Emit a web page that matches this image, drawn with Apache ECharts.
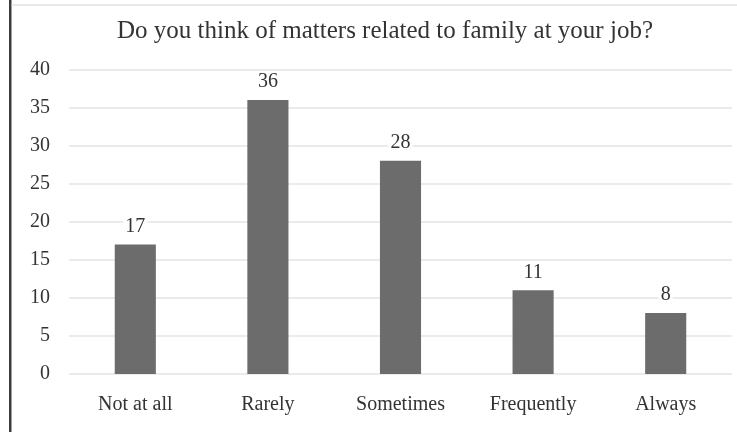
<!DOCTYPE html>
<html>
<head>
<meta charset="utf-8">
<script src="https://cdn.jsdelivr.net/npm/echarts@6/dist/echarts.min.js"></script>
<style>
  html, body { margin: 0; padding: 0; background: #fff; }
  #chart { width: 737px; height: 432px; }
</style>
</head>
<body>
<div id="chart"></div>
<script>
// Survey answers: how often family matters come to mind at work
const titleText = 'Do you think of matters related to family at your job?';
const categories = ['Not at all', 'Rarely', 'Sometimes', 'Frequently', 'Always'];
const counts = [17, 36, 28, 11, 8];
const yTicks = { min: 0, max: 40, interval: 5 };

const serif = '"Liberation Serif", "Times New Roman", serif';
const textColor = '#333333';

const chart = echarts.init(document.getElementById('chart'), null, { renderer: 'canvas' });

chart.setOption({
  animation: false,
  backgroundColor: '#ffffff',
  title: {
    text: titleText,
    left: 380,
    top: 14,
    textAlign: 'center',
    textStyle: { fontFamily: serif, fontSize: 25, fontWeight: 'normal', color: textColor }
  },
  grid: { left: 69, right: 5, top: 69.5, bottom: 58 },
  xAxis: {
    type: 'category',
    data: categories,
    axisLine: { show: false },
    axisTick: { show: false },
    axisLabel: { fontFamily: serif, fontSize: 20, color: textColor, margin: 21 }
  },
  yAxis: {
    type: 'value',
    min: yTicks.min,
    max: yTicks.max,
    interval: yTicks.interval,
    axisLine: { show: false },
    axisTick: { show: false },
    axisLabel: { fontFamily: serif, fontSize: 20, color: textColor, margin: 19 },
    splitLine: { lineStyle: { color: '#e4e4e4', width: 1.5 } }
  },
  series: [{
    type: 'bar',
    data: counts,
    barWidth: '31%',
    itemStyle: { color: '#6c6c6c' },
    label: {
      show: true,
      position: 'top',
      distance: 8,
      fontFamily: serif,
      fontSize: 20,
      color: textColor,
      backgroundColor: '#ffffff',
      padding: [0, 2]
    }
  }],
  graphic: [
    { type: 'rect', shape: { x: 9, y: 0, width: 2.5, height: 432 }, style: { fill: '#3c3c3c' }, z: 100 },
    { type: 'rect', shape: { x: 11, y: 4.5, width: 726, height: 1 }, style: { fill: '#d4d4d4' }, z: 100 }
  ]
});
</script>
</body>
</html>
